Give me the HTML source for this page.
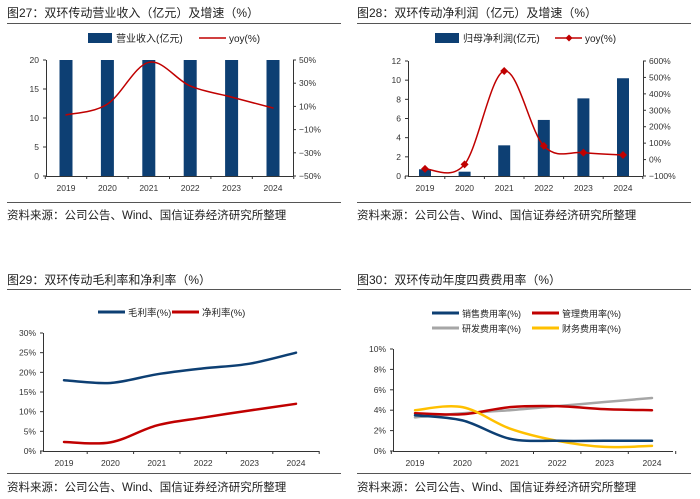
<!DOCTYPE html>
<html><head><meta charset="utf-8">
<style>
body{margin:0;background:#fff;width:700px;height:499px;overflow:hidden;font-family:"Liberation Sans","Noto Sans CJK SC",sans-serif;}
svg{position:absolute;left:0;top:0}
</style></head>
<body>
<svg id="s" width="700" height="499" font-family="Liberation Sans, Noto Sans CJK SC, sans-serif">
<g font-size="12" fill="#222">
<text x="7" y="17">图27：双环传动营业收入（亿元）及增速（%）</text>
<text x="357" y="17">图28：双环传动净利润（亿元）及增速（%）</text>
<text x="7" y="284">图29：双环传动毛利率和净利率（%）</text>
<text x="357" y="284">图30：双环传动年度四费费用率（%）</text>
</g>
<g stroke="#555" stroke-width="1">
<line x1="7" y1="23.5" x2="341" y2="23.5"/><line x1="357" y1="23.5" x2="691" y2="23.5"/>
<line x1="7" y1="202.5" x2="341" y2="202.5"/><line x1="357" y1="202.5" x2="691" y2="202.5"/>
<line x1="7" y1="289.5" x2="341" y2="289.5"/><line x1="357" y1="289.5" x2="691" y2="289.5"/>
<line x1="7" y1="473.5" x2="341" y2="473.5"/><line x1="357" y1="473.5" x2="691" y2="473.5"/>
</g>
<g font-size="11.5" fill="#222">
<text x="7" y="219">资料来源：公司公告、Wind、国信证券经济研究所整理</text>
<text x="357" y="219">资料来源：公司公告、Wind、国信证券经济研究所整理</text>
<text x="7" y="491">资料来源：公司公告、Wind、国信证券经济研究所整理</text>
<text x="357" y="491">资料来源：公司公告、Wind、国信证券经济研究所整理</text>
</g>
</svg>
<script>
const years=["2019","2020","2021","2022","2023","2024"];
const revenue=[20,20,20,20,20,20];
const revenueYoy=[2.6,12,48,27.6,18,8.6];
const profit=[0.7,0.45,3.2,5.85,8.1,10.2];
const profitYoy=[-57,-29,539,83,42,28];
const grossMargin=[18,17.3,19.5,21,22.2,25];
const netMargin=[2.3,2.2,6.5,8.5,10.3,12];
const sellRate=[3.5,3.0,1.2,1.0,1.0,1.0];
const mgmtRate=[3.7,3.6,4.3,4.4,4.1,4.0];
const rdRate=[3.3,3.7,4.0,4.4,4.8,5.2];
const finRate=[4.0,4.3,2.2,1.0,0.4,0.5];
const ticks1L=[0,5,10,15,20], ticks1R=[-50,-30,-10,10,30,50];
const ticks2L=[0,2,4,6,8,10,12], ticks2R=[-100,0,100,200,300,400,500,600];
const ticks3=[0,5,10,15,20,25,30], ticks4=[0,2,4,6,8,10];

const S=document.getElementById('s');const NS="http://www.w3.org/2000/svg";
function mk(tag,attrs,parent){const e=document.createElementNS(NS,tag);for(const k in attrs)e.setAttribute(k,attrs[k]);(parent||S).appendChild(e);return e;}
function txt(x,y,s,anchor,size,fill){const t=mk('text',{x:x,y:y,'text-anchor':anchor,'font-size':size,fill:fill||'#333'});t.textContent=s;return t;}
function smooth(pts){let d="M"+pts[0][0]+","+pts[0][1];for(let i=0;i<pts.length-1;i++){const p0=pts[i-1]||pts[i],p1=pts[i],p2=pts[i+1],p3=pts[i+2]||p2;const t=0.17;d+=" C"+(p1[0]+(p2[0]-p0[0])*t)+","+(p1[1]+(p2[1]-p0[1])*t)+" "+(p2[0]-(p3[0]-p1[0])*t)+","+(p2[1]-(p3[1]-p1[1])*t)+" "+p2[0]+","+p2[1];}return d;}
function lin(d0,d1,r0,r1){return v=>r0+(v-d0)/(d1-d0)*(r1-r0);}

function axes(c){
 const a=mk('line',{x1:c.x0,y1:c.yBot+.5,x2:c.x1,y2:c.yBot+.5,stroke:'#333'});
 
 
 const l=mk('line',{x1:c.x0+.5,y1:c.yTop,x2:c.x0+.5,y2:c.yBot,stroke:'#333'});
 
 
 c.tL.forEach(v=>{const y=c.yL(v);mk('line',{x1:c.x0-3,y1:y,x2:c.x0,y2:y,stroke:'#333'});const t=txt(c.x0-7,y+3,c.fL(v),'end',8.5);
  
  });
 if(c.tR){const r=mk('line',{x1:c.x1+.5,y1:c.yTop,x2:c.x1+.5,y2:c.yBot,stroke:'#333'});
  
  
  c.tR.forEach(v=>{const y=c.yR(v);mk('line',{x1:c.x1,y1:y,x2:c.x1+3,y2:y,stroke:'#333'});const t=txt(c.x1+6,y+3,c.fR(v),'start',8.5);
  
  });}
 const step=c.xs(1)-c.xs(0);
 for(let i=0;i<=years.length;i++){const x=c.xs(i)-step/2;mk('line',{x1:x,y1:c.yBot,x2:x,y2:c.yBot+3,stroke:'#333'});}
 years.forEach((yr,i)=>{const t=txt(c.xs(i),c.yBot+15,yr,'middle',8.5);
  
  });
}
function bars(vals,xs,y,yBot,w,name){vals.forEach((v,i)=>{const r=mk('rect',{x:xs(i)-w/2,y:y(v),width:w,height:yBot-y(v),fill:'#0d3f73'});
 
 });}
function line(vals,xs,y,color,w,name){const p=mk('path',{d:smooth(vals.map((v,i)=>[xs(i),y(v)])),fill:'none',stroke:color,'stroke-width':w,'stroke-linecap':'round'});
 
 }
function legLine(x,y,color,w,label,name,marker,fs){const g=mk('g',{});
 
 
 mk('line',{x1:x,y1:y,x2:x+27,y2:y,stroke:color,'stroke-width':w},g);
 if(marker)mk('path',{d:`M${x+14},${y-3.5}L${x+17.5},${y}L${x+14},${y+3.5}L${x+10.5},${y}Z`,fill:color},g);
 const t=txt(x+30,y+4,label,'start',fs||10,'#222');g.appendChild(t);}
function legBar(x,y,label,name){const g=mk('g',{});
 
 
 mk('rect',{x:x,y:y-5,width:24,height:10,fill:'#0d3f73'},g);const t=txt(x+28,y+4,label,'start',10,'#222');g.appendChild(t);}

{const xs=i=>66+i*41.4,yL=lin(0,20,176,60),yR=lin(-50,50,176,60);
 axes({x0:46,x1:293,yTop:60,yBot:176,xs,tL:ticks1L,yL,fL:v=>v,tR:ticks1R,yR,fR:v=>(v<0?'−':'')+Math.abs(v)+'%'});
 bars(revenue,xs,yL,176,13,'revenue-bar');
 line(revenueYoy,xs,yR,'#c00000',1.5,'revenue-yoy-line');
 legBar(88,38,'营业收入(亿元)','legend-revenue');
 legLine(199,38,'#c00000',1.5,'yoy(%)','legend-revenue-yoy');}
{const xs=i=>425+i*39.6,yL=lin(0,12,176,61),yR=lin(-100,600,176,61);
 axes({x0:408,x1:643,yTop:61,yBot:176,xs,tL:ticks2L,yL,fL:v=>v,tR:ticks2R,yR,fR:v=>(v<0?'−':'')+Math.abs(v)+'%'});
 bars(profit,xs,yL,176,12,'profit-bar');
 line(profitYoy,xs,yR,'#c00000',1.5,'profit-yoy-line');
 profitYoy.forEach((v,i)=>{const m=mk('path',{d:`M${xs(i)},${yR(v)-4}L${xs(i)+4},${yR(v)}L${xs(i)},${yR(v)+4}L${xs(i)-4},${yR(v)}Z`,fill:'#c00000'});
  
  });
 legBar(435,38,'归母净利润(亿元)','legend-profit');
 legLine(555,38,'#c00000',1.5,'yoy(%)','legend-profit-yoy',true);}
{const xs=i=>64+i*46.4,y=lin(0,30,451,333);
 axes({x0:43,x1:319,yTop:333,yBot:451,xs,tL:ticks3,yL:y,fL:v=>v+'%'});
 line(grossMargin,xs,y,'#0d3f73',2.5,'gross-margin-line');
 line(netMargin,xs,y,'#c00000',2.5,'net-margin-line');
 legLine(98,312,'#0d3f73',3,'毛利率(%)','legend-gross-margin',false,9.5);
 legLine(172,312,'#c00000',3,'净利率(%)','legend-net-margin',false,9.5);}
{const xs=i=>415+i*47.4,y=lin(0,10,451,349);
 axes({x0:393,x1:673,yTop:349,yBot:451,xs,tL:ticks4,yL:y,fL:v=>v+'%'});
 line(rdRate,xs,y,'#a6a6a6',2.5,'rd-rate-line');
 line(mgmtRate,xs,y,'#c00000',2.5,'mgmt-rate-line');
 line(finRate,xs,y,'#ffc000',2.5,'fin-rate-line');
 line(sellRate,xs,y,'#0d3f73',2.5,'sell-rate-line');
 legLine(432,313,'#0d3f73',3,'销售费用率(%)','legend-sell-rate',false,9);
 legLine(532,313,'#c00000',3,'管理费用率(%)','legend-mgmt-rate',false,9);
 legLine(432,328,'#a6a6a6',3,'研发费用率(%)','legend-rd-rate',false,9);
 legLine(532,328,'#ffc000',3,'财务费用率(%)','legend-fin-rate',false,9);}
</script>
</body></html>
